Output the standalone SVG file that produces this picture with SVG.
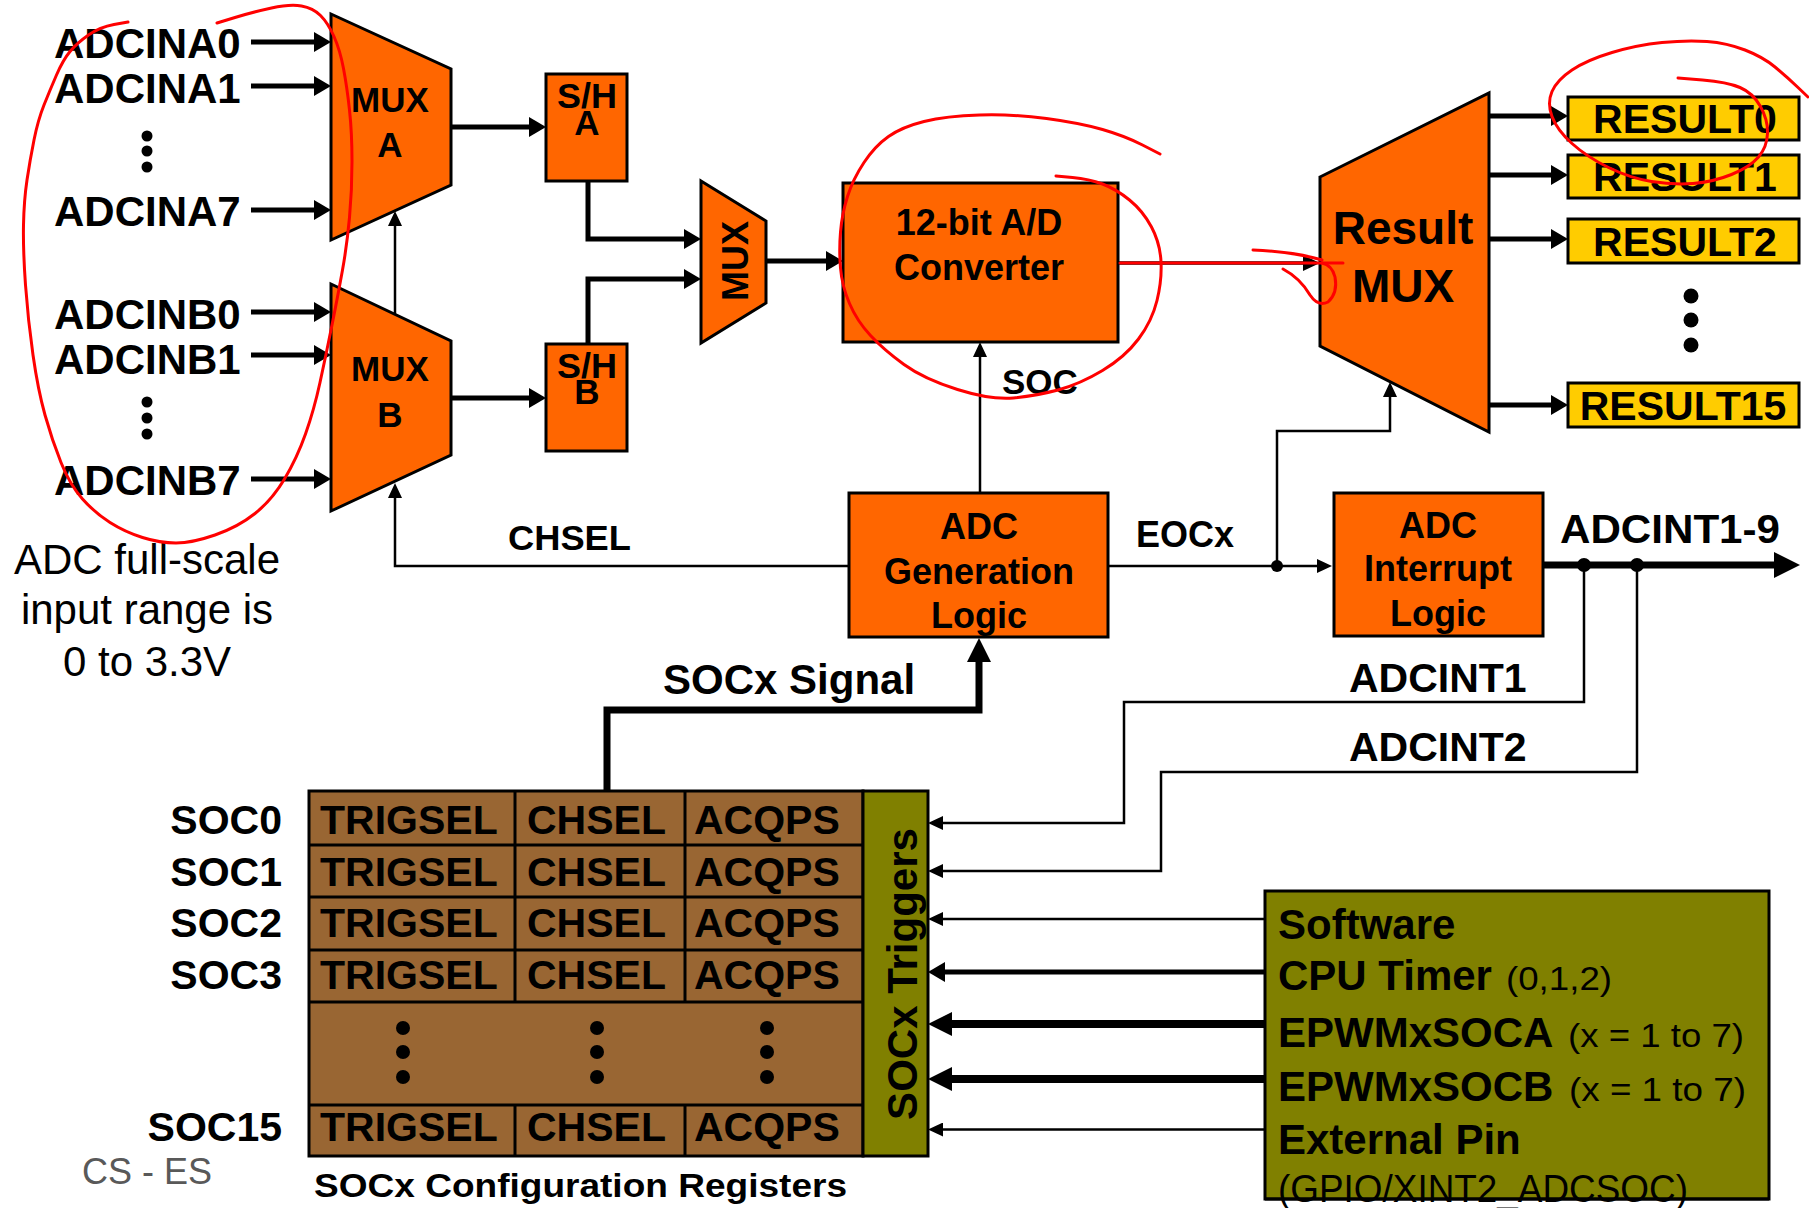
<svg xmlns="http://www.w3.org/2000/svg" width="1809" height="1208" viewBox="0 0 1809 1208">
<style>
text{font-family:"Liberation Sans",Arial,Helvetica,sans-serif;fill:#000}
.b{font-weight:bold}
.c{text-anchor:middle}
.e{text-anchor:end}
.bx{stroke:#000;stroke-width:3}
.or{fill:#FF6600}
.yl{fill:#FFCC00}
.br{fill:#996633}
.ol{fill:#808000}
.w2{fill:none;stroke:#000;stroke-width:2.5}
.w3{fill:none;stroke:#000;stroke-width:3.5}
.w5{fill:none;stroke:#000;stroke-width:5}
.w7{fill:none;stroke:#000;stroke-width:7}
.w8{fill:none;stroke:#000;stroke-width:8}
.red{fill:none;stroke:#FF0000;stroke-width:3;stroke-linecap:round;stroke-linejoin:round}
.f42{font-size:42px}
.f41{font-size:41px}
.f36{font-size:36px}
.f35{font-size:35px}
</style>
<defs>
<marker id="mA" viewBox="0 -10 17 20" refX="2" refY="0" markerWidth="17" markerHeight="20" markerUnits="userSpaceOnUse" orient="auto"><path d="M0,-10 L17,0 L0,10 Z"/></marker>
<marker id="mS" viewBox="0 -7 15 14" refX="2" refY="0" markerWidth="15" markerHeight="14" markerUnits="userSpaceOnUse" orient="auto"><path d="M0,-7 L15,0 L0,7 Z"/></marker>
<marker id="mM" viewBox="0 -8 17 16" refX="2" refY="0" markerWidth="17" markerHeight="16" markerUnits="userSpaceOnUse" orient="auto"><path d="M0,-8 L17,0 L0,8 Z"/></marker>
<marker id="mL" viewBox="0 -12 24 24" refX="2" refY="0" markerWidth="24" markerHeight="24" markerUnits="userSpaceOnUse" orient="auto"><path d="M0,-12 L24,0 L0,12 Z"/></marker>
<marker id="mXL" viewBox="0 -13 26 26" refX="2" refY="0" markerWidth="26" markerHeight="26" markerUnits="userSpaceOnUse" orient="auto"><path d="M0,-13 L26,0 L0,13 Z"/></marker>
</defs>
<rect width="1809" height="1208" fill="#fff"/>

<g id="inputs">
<text class="b f42" x="54" y="58">ADCINA0</text>
<text class="b f42" x="54" y="103">ADCINA1</text>
<circle cx="147" cy="136" r="5.5"/><circle cx="147" cy="151" r="5.5"/><circle cx="147" cy="167" r="5.5"/>
<text class="b f42" x="54" y="226">ADCINA7</text>
<text class="b f42" x="54" y="329">ADCINB0</text>
<text class="b f42" x="54" y="374">ADCINB1</text>
<circle cx="147" cy="402" r="5.5"/><circle cx="147" cy="418" r="5.5"/><circle cx="147" cy="434" r="5.5"/>
<text class="b f42" x="54" y="495">ADCINB7</text>
</g>

<g id="range-note">
<text class="f42 c" x="147" y="574">ADC full-scale</text>
<text class="f42 c" x="147" y="624">input range is</text>
<text class="f42 c" x="147" y="676">0 to 3.3V</text>
</g>

<g id="mux-a">
<polygon class="bx or" points="331,14 451,69 451,185 331,240"/>
<text class="b f35 c" x="390" y="112">MUX</text>
<text class="b f35 c" x="390" y="157">A</text>
</g>
<g id="mux-b">
<polygon class="bx or" points="331,284 451,341 451,455 331,511"/>
<text class="b f35 c" x="390" y="381">MUX</text>
<text class="b f35 c" x="390" y="427">B</text>
</g>

<g id="sh-a">
<rect class="bx or" x="546" y="74" width="81" height="107"/>
<text class="b f35 c" x="587" y="108" textLength="60" lengthAdjust="spacingAndGlyphs">S/H</text>
<text class="b f35 c" x="587" y="135">A</text>
</g>
<g id="sh-b">
<rect class="bx or" x="546" y="344" width="81" height="107"/>
<text class="b f35 c" x="587" y="378" textLength="60" lengthAdjust="spacingAndGlyphs">S/H</text>
<text class="b f35 c" x="587" y="404">B</text>
</g>

<g id="mux-sh">
<polygon class="bx or" points="701,181 766,221 766,303 701,343"/>
<text class="b f36 c" transform="translate(748,261) rotate(-90)">MUX</text>
</g>

<g id="converter">
<rect class="bx or" x="843" y="183" width="275" height="159"/>
<text class="b f36 c" x="979" y="235">12-bit A/D</text>
<text class="b f36 c" x="979" y="280">Converter</text>
</g>

<g id="result-mux">
<polygon class="bx or" points="1320,177 1489,93 1489,432 1320,346"/>
<text class="b c" font-size="46" x="1403" y="244">Result</text>
<text class="b c" font-size="46" x="1403" y="302">MUX</text>
</g>

<g id="results">
<rect class="bx yl" x="1568" y="97" width="231" height="43"/>
<text class="b f41 c" x="1685" y="133">RESULT0</text>
<rect class="bx yl" x="1568" y="155" width="231" height="43"/>
<text class="b f41 c" x="1685" y="191">RESULT1</text>
<rect class="bx yl" x="1568" y="219" width="231" height="44"/>
<text class="b f41 c" x="1685" y="256">RESULT2</text>
<circle cx="1691" cy="296" r="7.5"/><circle cx="1691" cy="320" r="7.5"/><circle cx="1691" cy="345" r="7.5"/>
<rect class="bx yl" x="1568" y="383" width="231" height="44"/>
<text class="b f41 c" x="1683" y="420">RESULT15</text>
</g>

<g id="gen-logic">
<rect class="bx or" x="849" y="493" width="259" height="144"/>
<text class="b f36 c" x="979" y="539">ADC</text>
<text class="b f36 c" x="979" y="584">Generation</text>
<text class="b f36 c" x="979" y="628">Logic</text>
</g>

<g id="int-logic">
<rect class="bx or" x="1334" y="493" width="209" height="143"/>
<text class="b f36 c" x="1438" y="538">ADC</text>
<text class="b f36 c" x="1438" y="581">Interrupt</text>
<text class="b f36 c" x="1438" y="626">Logic</text>
</g>

<g id="soc-registers">
<rect class="bx br" x="309" y="791" width="554" height="365"/>
<g class="bx" fill="none">
<line x1="309" y1="845" x2="863" y2="845"/>
<line x1="309" y1="897" x2="863" y2="897"/>
<line x1="309" y1="950" x2="863" y2="950"/>
<line x1="309" y1="1002" x2="863" y2="1002"/>
<line x1="309" y1="1105" x2="863" y2="1105"/>
<line x1="515" y1="791" x2="515" y2="1002"/>
<line x1="685" y1="791" x2="685" y2="1002"/>
<line x1="515" y1="1105" x2="515" y2="1156"/>
<line x1="685" y1="1105" x2="685" y2="1156"/>
</g>
<text class="b f41" x="320" y="834">TRIGSEL</text><text class="b f41" x="527" y="834">CHSEL</text><text class="b f41" x="694" y="834">ACQPS</text>
<text class="b f41" x="320" y="886">TRIGSEL</text><text class="b f41" x="527" y="886">CHSEL</text><text class="b f41" x="694" y="886">ACQPS</text>
<text class="b f41" x="320" y="937">TRIGSEL</text><text class="b f41" x="527" y="937">CHSEL</text><text class="b f41" x="694" y="937">ACQPS</text>
<text class="b f41" x="320" y="989">TRIGSEL</text><text class="b f41" x="527" y="989">CHSEL</text><text class="b f41" x="694" y="989">ACQPS</text>
<circle cx="403" cy="1028" r="7"/><circle cx="403" cy="1052" r="7"/><circle cx="403" cy="1077" r="7"/>
<circle cx="597" cy="1028" r="7"/><circle cx="597" cy="1052" r="7"/><circle cx="597" cy="1077" r="7"/>
<circle cx="767" cy="1028" r="7"/><circle cx="767" cy="1052" r="7"/><circle cx="767" cy="1077" r="7"/>
<text class="b f41" x="320" y="1141">TRIGSEL</text><text class="b f41" x="527" y="1141">CHSEL</text><text class="b f41" x="694" y="1141">ACQPS</text>
<text class="b f41 e" x="282" y="834">SOC0</text>
<text class="b f41 e" x="282" y="886">SOC1</text>
<text class="b f41 e" x="282" y="937">SOC2</text>
<text class="b f41 e" x="282" y="989">SOC3</text>
<text class="b f41 e" x="282" y="1141">SOC15</text>
<text class="b" font-size="34" x="314" y="1197" textLength="533" lengthAdjust="spacingAndGlyphs">SOCx Configuration Registers</text>
</g>

<g id="soc-triggers">
<rect class="bx ol" x="863" y="791" width="65" height="365"/>
<text class="b f42 c" transform="translate(917,974) rotate(-90)">SOCx Triggers</text>
</g>

<g id="trigger-sources">
<rect class="bx ol" x="1265" y="891" width="504" height="308"/>
<text class="b f42" x="1278" y="939">Software</text>
<text class="f42" x="1278" y="990"><tspan class="b">CPU Timer</tspan><tspan font-size="34" x="1506" textLength="106" lengthAdjust="spacingAndGlyphs">(0,1,2)</tspan></text>
<text class="f42" x="1278" y="1047"><tspan class="b">EPWMxSOCA</tspan><tspan font-size="34" x="1568" textLength="176" lengthAdjust="spacingAndGlyphs">(x = 1 to 7)</tspan></text>
<text class="f42" x="1278" y="1101"><tspan class="b">EPWMxSOCB</tspan><tspan font-size="34" x="1569" textLength="177" lengthAdjust="spacingAndGlyphs">(x = 1 to 7)</tspan></text>
<text class="b f42" x="1278" y="1154">External Pin</text>
<text font-size="38" x="1278" y="1202" textLength="410" lengthAdjust="spacingAndGlyphs">(GPIO/XINT2_ADCSOC)</text>
<line x1="1265" y1="1199" x2="1769" y2="1199" stroke="#000" stroke-width="3"/>
</g>

<g id="connectors">
<path class="w5" marker-end="url(#mA)" d="M251,42 H316"/>
<path class="w5" marker-end="url(#mA)" d="M251,86 H316"/>
<path class="w5" marker-end="url(#mA)" d="M251,210 H316"/>
<path class="w5" marker-end="url(#mA)" d="M251,312 H316"/>
<path class="w5" marker-end="url(#mA)" d="M251,355 H316"/>
<path class="w5" marker-end="url(#mA)" d="M251,479 H316"/>
<path class="w5" marker-end="url(#mA)" d="M451,127 H531"/>
<path class="w5" marker-end="url(#mA)" d="M451,398 H531"/>
<path class="w5" marker-end="url(#mA)" d="M588,181 V239 H686"/>
<path class="w5" marker-end="url(#mA)" d="M588,344 V279 H686"/>
<path class="w5" marker-end="url(#mA)" d="M766,261 H828"/>
<path class="w3" marker-end="url(#mM)" d="M1118,263 H1305"/>
<path class="w5" marker-end="url(#mA)" d="M1489,116 H1553"/>
<path class="w5" marker-end="url(#mA)" d="M1489,175 H1553"/>
<path class="w5" marker-end="url(#mA)" d="M1489,239 H1553"/>
<path class="w5" marker-end="url(#mA)" d="M1489,405 H1553"/>
<path class="w2" marker-end="url(#mS)" d="M395,314 V224"/>
<path class="w2" marker-end="url(#mS)" d="M849,566 H395 V496"/>
<path class="w2" marker-end="url(#mS)" d="M980,493 V355"/>
<path class="w2" marker-end="url(#mS)" d="M1108,566 H1319"/>
<path class="w2" marker-end="url(#mS)" d="M1277,566 V431 H1390 V395"/>
<circle cx="1277" cy="566" r="6"/>
<path class="w7" marker-end="url(#mXL)" d="M1543,565 H1776"/>
<circle cx="1584" cy="565" r="7"/>
<circle cx="1637" cy="565" r="7"/>
<path class="w2" marker-end="url(#mS)" d="M1584,565 V702 H1124 V823 H941"/>
<path class="w2" marker-end="url(#mS)" d="M1637,565 V772 H1161 V871 H941"/>
<path class="w2" marker-end="url(#mS)" d="M1265,919 H941"/>
<path class="w5" marker-end="url(#mA)" d="M1265,972 H943"/>
<path class="w8" marker-end="url(#mL)" d="M1265,1024 H950"/>
<path class="w8" marker-end="url(#mL)" d="M1265,1079 H950"/>
<path class="w2" marker-end="url(#mS)" d="M1265,1129.5 H941"/>
<path class="w7" marker-end="url(#mL)" d="M607,791 V710 H979 V660"/>
</g>

<g id="labels">
<text class="b f35" x="1002" y="394">SOC</text>
<text class="b f35" x="508" y="550" textLength="123" lengthAdjust="spacingAndGlyphs">CHSEL</text>
<text class="b f36" x="1136" y="547">EOCx</text>
<text class="b f41" x="1560" y="543" textLength="220" lengthAdjust="spacingAndGlyphs">ADCINT1-9</text>
<text class="b f41" x="1349" y="692">ADCINT1</text>
<text class="b f41" x="1349" y="761">ADCINT2</text>
<text class="b f42" x="663" y="694">SOCx Signal</text>
<text class="f36" x="82" y="1184" fill="#595959" style="fill:#595959">CS - ES</text>
</g>

<g id="annotations">
<path class="red" d="M217,23 L235,17.5 Q253,12 271.5,8 Q290,4 301.5,6 Q313,8 320.5,15.5 Q328,23 334,36.5 Q340,50 343.5,68.5 Q347,87 349.5,110 Q352,133 352,161.5 Q352,190 349.5,217.5 Q347,245 342.5,270 Q338,295 332,325 Q326,355 320,382.5 Q314,410 305.5,434 Q297,458 284.5,479 Q272,500 255,513.5 Q238,527 215,535 Q192,543 176,543 Q160,543 142.5,537.5 Q125,532 110,522.5 Q95,513 82.5,499 Q70,485 61,462.5 Q52,440 45,415 Q38,390 33,355 Q28,320 25.5,285 Q23,250 23.5,225 Q24,200 27,180 Q30,160 34,140 Q38,120 44,105 Q50,90 56.5,75 Q63,60 70,51.5 Q77,43 88.5,35 Q100,27 114,24.5 L128,22"/>
<path class="red" d="M1160,154 L1142.5,145 Q1125,136 1102.5,129.5 Q1080,123 1046.5,118.5 Q1013,114 979.5,115 Q946,116 924,121.5 Q902,127 888.5,136.5 Q875,146 864,162.5 Q853,179 847.5,196.5 Q842,214 840.5,232 Q839,250 840.5,268 Q842,286 849.5,303.5 Q857,321 870.5,335.5 Q884,350 904,364.5 Q924,379 957.5,389.5 Q991,400 1013.5,398 Q1036,396 1058,390 Q1080,384 1102.5,370.5 Q1125,357 1138.5,339 Q1152,321 1157,300.5 Q1162,280 1161,261.5 Q1160,243 1151.5,227 Q1143,211 1129.5,200 Q1116,189 1102.5,184 Q1089,179 1072.5,177.5 L1056,176"/>
<path class="red" d="M1120,263 L1343,263"/>
<path class="red" d="M1253,250 Q1295,252 1322,260"/>
<path class="red" d="M1283,269 Q1300,278 1310,295 Q1318,307 1328,302 Q1338,293 1335,277 Q1332,265 1322,263"/>
<path class="red" d="M1678,78 L1702.5,80 Q1727,82 1740,87.5 Q1753,93 1760.5,106.5 Q1768,120 1767.5,133.5 Q1767,147 1758.5,157 Q1750,167 1731.5,174.5 Q1713,182 1693,183.5 Q1673,185 1651.5,181.5 Q1630,178 1608.5,167.5 Q1587,157 1572,143.5 Q1557,130 1552,116.5 Q1547,103 1552,91.5 Q1557,80 1572,70 Q1587,60 1612,52.5 Q1637,45 1662,42.5 Q1687,40 1707,41.5 Q1727,43 1745,50 Q1763,57 1775,67 Q1787,77 1797.5,87 L1808,97"/>
</g>
</svg>
